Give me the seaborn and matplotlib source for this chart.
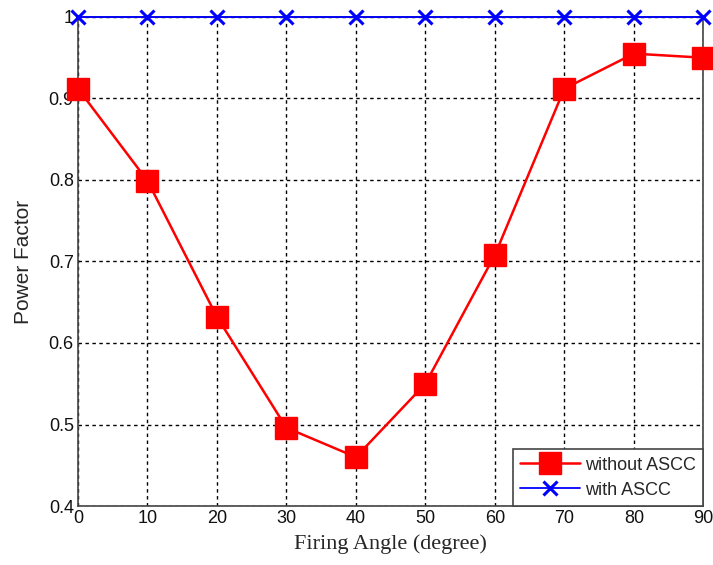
import matplotlib
matplotlib.use('Agg')
import matplotlib.pyplot as plt
import seaborn as sns
import pandas as pd

angles = [0, 10, 20, 30, 40, 50, 60, 70, 80, 90]
pf_without = [0.912, 0.799, 0.632, 0.496, 0.460, 0.550, 0.708, 0.912, 0.955, 0.950]
pf_with = [1, 1, 1, 1, 1, 1, 1, 1, 1, 1]
series = ['without ASCC', 'with ASCC']

df = pd.DataFrame({
    'angle': angles * 2,
    'pf': pf_without + pf_with,
    'case': [series[0]] * len(angles) + [series[1]] * len(angles),
})

sns.set_style('white')
plt.rcParams['font.family'] = ['Liberation Sans', 'DejaVu Sans']

fig = plt.figure(figsize=(7.13, 5.65), dpi=100)
ax = fig.add_axes([0.1094, 0.1044, 0.877, 0.8656])

sns.lineplot(data=df, x='angle', y='pf', hue='case', ax=ax,
             palette={series[0]: 'red', series[1]: 'blue'}, marker='s', legend=True)

# marker, size, line width, edge width per series (seaborn won't mix 's' and 'x')
sizes = {series[0]: ('s', 16, 1.8, 1), series[1]: ('x', 10, 1.3, 2.2)}

def restyle(line, name):
    mk, ms, lw, mew = sizes[name]
    line.set_marker(mk)
    line.set_markersize(ms)
    line.set_linewidth(lw)
    line.set_markeredgewidth(mew)
    line.set_markeredgecolor(line.get_color())
    line.set_linestyle('-')

for line, name in zip(ax.lines[:2], series):
    restyle(line, name)
    line.set_clip_on(False)
    line.set_zorder(5)

ax.set_xlim(0, 90)
ax.set_ylim(0.4, 1.0)
ax.set_xticks(angles)
ax.set_yticks([0.4, 0.5, 0.6, 0.7, 0.8, 0.9, 1.0])
ax.set_yticklabels(['0.4', '0.5', '0.6', '0.7', '0.8', '0.9', '1'])
ax.grid(True, linestyle=(0, (2.5, 2.5)), color='black', linewidth=1)
ax.tick_params(direction='in', length=5, labelsize=13, colors='#333333', labelcolor='#111111', pad=3)
for s in ax.spines.values():
    s.set_color('#444444')
    s.set_linewidth(1.2)

ax.set_xlabel('Firing Angle (degree)', fontsize=16, family='Liberation Serif', labelpad=5)
ax.set_ylabel('Power Factor', fontsize=15, labelpad=11)

handles, labels = ax.get_legend_handles_labels()
for h, name in zip(handles, labels):
    restyle(h, name)
leg = ax.legend(handles, labels, loc='lower right', fontsize=13, frameon=True, fancybox=False,
                edgecolor='#444444', borderpad=0.4, handlelength=3.3, handletextpad=0.3,
                labelspacing=0.45, borderaxespad=0, framealpha=1)
leg.get_frame().set_linewidth(1.2)
leg.set_zorder(10)

fig.savefig('out.png', dpi=100)
